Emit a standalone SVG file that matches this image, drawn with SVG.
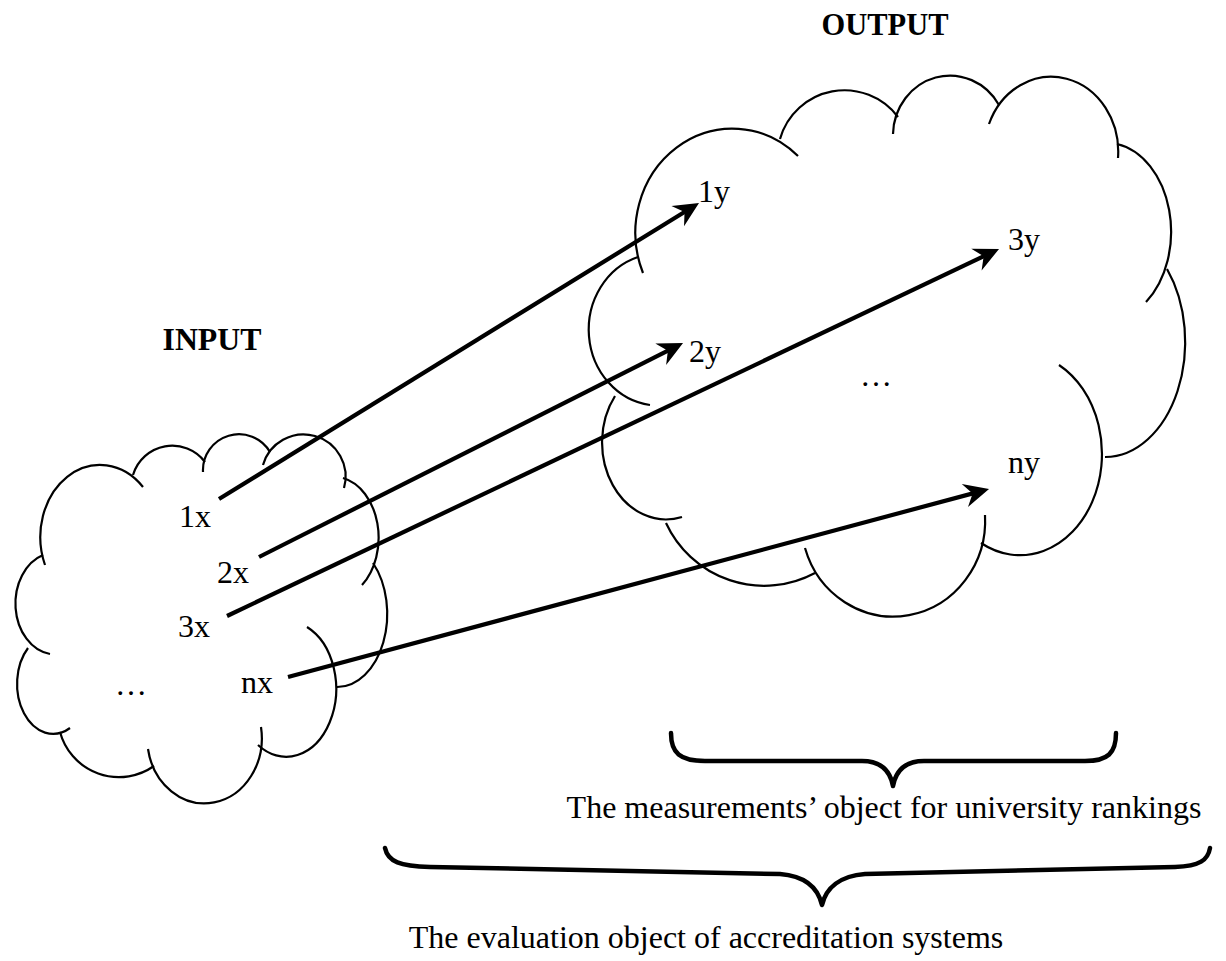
<svg xmlns="http://www.w3.org/2000/svg" width="1226" height="961" viewBox="0 0 1226 961">
<style>
.cloud{fill:none;stroke:#000;stroke-width:2.2}
.conn{fill:none;stroke:#000;stroke-width:4.2}
.brace{fill:none;stroke:#000;stroke-width:4.5;stroke-linecap:round;stroke-linejoin:round}
.lbl{font-family:"Liberation Serif","Times New Roman",serif;font-size:32px;fill:#000}
.ttl{font-family:"Liberation Serif","Times New Roman",serif;font-size:32px;font-weight:bold;fill:#000}
.cap{font-family:"Liberation Serif","Times New Roman",serif;font-size:32px;fill:#000}
</style>
<defs>
<marker id="ah" markerUnits="userSpaceOnUse" orient="auto" refX="0" refY="0" viewBox="-20 -14 30 28" markerWidth="30" markerHeight="28">
<path d="M8,0 L-17,-12 L-9,0 L-17,12 Z" fill="#000"/>
</marker>
</defs>
<rect width="1226" height="961" fill="#fff"/>

<g id="output-cloud" class="cloud">
<path d="M643,273 A97,104 0 0 1 798,156"/>
<path d="M780,139 A67,67 0 0 1 898,117"/>
<path d="M893,134 A57,60 0 0 1 999,105"/>
<path d="M989,124 A67,75 0 0 1 1118,158"/>
<path d="M1117,144 A65,89 0 0 1 1146,302"/>
<path d="M1167,269 A80,115 0 0 1 1105,457"/>
<path d="M1059,365 A81,100 0 1 1 981,543"/>
<path d="M985,515 A92,96 0 0 1 805,548"/>
<path d="M815,573 A108,108 0 0 1 666,523"/>
<path d="M682,517 A64,77 0 0 1 615,396"/>
<path d="M650,405 A70,76 0 0 1 638,257"/>
</g>

<g id="input-cloud" class="cloud">
<path d="M45,565 A59.7,72.1 0 0 1 143,487"/>
<path d="M133,475 A41,41 0 0 1 205,462"/>
<path d="M203,472 A36,36 0 0 1 270,452"/>
<path d="M263,465 A42,42 0 1 1 344,488"/>
<path d="M343,478 A45,61 0 0 1 362,585"/>
<path d="M373,563 A50,73 0 0 1 337,687"/>
<path d="M307,627 A50,68 0 1 1 258,745"/>
<path d="M261,727 A57,65 0 0 1 148,749"/>
<path d="M154,766 A61,61 0 0 1 60,732"/>
<path d="M70,728 A36,50 0 0 1 28,648"/>
<path d="M50,654 A40,51 0 0 1 43,555"/>
</g>

<g id="title-output"><text class="ttl" x="885" y="35" text-anchor="middle" textLength="127" lengthAdjust="spacingAndGlyphs">OUTPUT</text></g>
<g id="title-input"><text class="ttl" x="212" y="350" text-anchor="middle" textLength="99" lengthAdjust="spacingAndGlyphs">INPUT</text></g>

<g id="node-1x"><text class="lbl" x="195" y="527" text-anchor="middle">1x</text></g>
<g id="node-2x"><text class="lbl" x="233" y="583" text-anchor="middle">2x</text></g>
<g id="node-3x"><text class="lbl" x="194" y="637" text-anchor="middle">3x</text></g>
<g id="node-nx"><text class="lbl" x="257" y="693" text-anchor="middle">nx</text></g>
<g id="node-xdots"><text class="lbl" x="131" y="695" text-anchor="middle">…</text></g>

<g id="node-1y"><text class="lbl" x="714" y="202" text-anchor="middle">1y</text></g>
<g id="node-2y"><text class="lbl" x="705" y="362" text-anchor="middle">2y</text></g>
<g id="node-3y"><text class="lbl" x="1024" y="250" text-anchor="middle">3y</text></g>
<g id="node-ny"><text class="lbl" x="1024" y="473" text-anchor="middle">ny</text></g>
<g id="node-ydots"><text class="lbl" x="876" y="386" text-anchor="middle">…</text></g>

<g id="connectors" class="conn">
<path d="M219,499 L692.2,207.2" marker-end="url(#ah)"/>
<path d="M259,557 L675.9,346.6" marker-end="url(#ah)"/>
<path d="M227,616 L991.8,252.4" marker-end="url(#ah)"/>
<path d="M288,677 L981.3,491.1" marker-end="url(#ah)"/>
</g>

<g id="brace-rankings">
<path class="brace" d="M671,733 C671,753 680,761 705,761 L862,761 C880,761 890,770 893,786 C896,770 906,761 924,761 L1085,761 C1108,761 1116,753 1116,733"/>
<text class="cap" x="884" y="818" text-anchor="middle">The measurements’ object for university rankings</text>
</g>
<g id="brace-accreditation">
<path class="brace" d="M385,848 C388,862 400,866 430,867 L780,874 C805,876 818,888 822,905 C826,888 840,876 865,874 L1175,867 C1200,866 1208,860 1210,848"/>
<text class="cap" x="706" y="948" text-anchor="middle">The evaluation object of accreditation systems</text>
</g>
</svg>
